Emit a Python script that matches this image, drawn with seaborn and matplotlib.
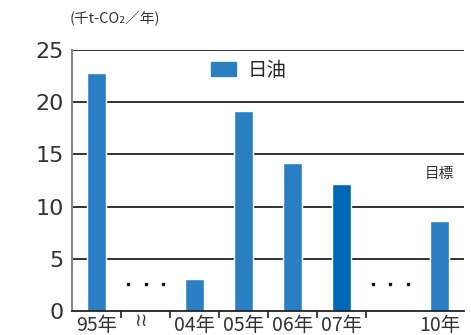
import pandas as pd
import seaborn as sns
import matplotlib.pyplot as plt
from matplotlib.patches import Patch

# CO2 emissions (thousand t-CO2 / year), gaps are the "..." slots
slots = ['95', 'gap1', '04', '05', '06', '07', 'gap2', '10']
labels = ['95年', '', '04年', '05年', '06年', '07年', '', '10年']
values = [22.8, None, 3.05, 19.2, 14.2, 12.2, None, 8.65]
colors = ['#2a7fc4', '#2a7fc4', '#2a7fc4', '#2a7fc4', '#2a7fc4', '#0068b7', '#2a7fc4', '#2a7fc4']

df = pd.DataFrame({'slot': slots, 'value': values})

sns.set_style('white')
plt.rcParams['font.family'] = ['Noto Sans CJK JP', 'DejaVu Sans']

fig = plt.figure(figsize=(4.71, 3.35), dpi=100)
ax = fig.add_axes([0.1529, 0.0716, 0.8322, 0.7791])

sns.barplot(data=df, x='slot', y='value', order=slots, hue='slot',
            palette=dict(zip(slots, colors)), legend=False, width=0.37,
            saturation=1, ax=ax, zorder=2)

ax.set_xlim(-0.5, 7.5)
ax.set_ylim(0, 25)
ax.set_yticks([0, 5, 10, 15, 20, 25])
ax.set_yticklabels(['0', '5', '10', '15', '20', '25'], fontsize=16, color='#333333',
                   family=['DejaVu Sans'])
ax.set_xticks(range(len(slots)))
ax.set_xticklabels(labels, fontsize=14, color='#333333')
ax.tick_params(axis='x', length=0, pad=3)
ax.tick_params(axis='y', length=0, pad=6)
ax.set_xticks([0.5, 1.5, 2.5, 3.5, 4.5, 5.5], minor=True)
ax.tick_params(axis='x', which='minor', bottom=True, length=5, direction='out',
               color='#333333', width=1.3)
ax.set_xlabel('')
ax.set_ylabel('')

for v in [5, 10, 15, 20, 25]:
    ax.axhline(v, color='#222222', lw=1.3, zorder=1)

sns.despine(ax=ax, top=True, right=True)
ax.spines['left'].set_color('#888888')
ax.spines['left'].set_linewidth(1.5)
ax.spines['bottom'].set_color('#222222')
ax.spines['bottom'].set_linewidth(1.3)

# "..." markers in the gap slots
for x0 in [1, 6]:
    ax.plot([x0 - 0.36, x0, x0 + 0.36], [2.55, 2.55, 2.55], 's', color='#111111',
            markersize=1.9, zorder=3)

# axis break mark
ax.text(0.9, -0.005, '≀≀', transform=ax.get_xaxis_transform(), ha='center', va='top',
        fontsize=13, color='#333333', family=['DejaVu Sans'])

fig.text(0.147, 0.945, '(千t-CO₂／年)', fontsize=10.5, color='#333333', ha='left', va='center')

ax.text(7.3, 13.1, '目標', fontsize=10.5, color='#333333', ha='right', va='center')

ax.legend(handles=[Patch(color='#2a7fc4', label='日油')], loc='upper left',
          bbox_to_anchor=(0.31, 1.03), frameon=False, fontsize=14,
          handlelength=1.3, handleheight=0.7, handletextpad=0.6)

fig.savefig('out.png', dpi=100)
